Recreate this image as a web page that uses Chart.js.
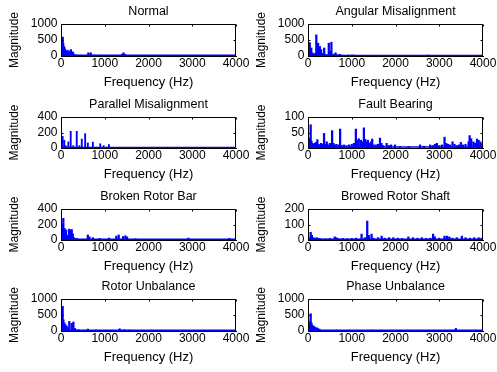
<!DOCTYPE html>
<html>
<head>
<meta charset="utf-8">
<script src="https://cdn.jsdelivr.net/npm/chart.js@4.4.0/dist/chart.umd.min.js"></script>
<style>
  html, body { margin: 0; padding: 0; background: #fff; }
  #fig { position: relative; width: 497px; height: 372px; overflow: hidden; }
  #fig canvas { position: absolute; }
</style>
</head>
<body>
<div id="fig"></div>
<script>
// spectra (Hz, magnitude)
const titles = ['Normal', 'Angular Misalignment', 'Parallel Misalignment', 'Fault Bearing',
                'Broken Rotor Bar', 'Browed Rotor Shaft', 'Rotor Unbalance', 'Phase Unbalance'];
const xTickValues = [0, 1000, 2000, 3000, 4000];
const yTickValues = [[0, 500, 1000], [0, 500, 1000], [0, 200, 400], [0, 50, 100],
                     [0, 200, 400], [0, 100, 200], [0, 500, 1000], [0, 500, 1000]];
const floorLevels = [20, 15, 5, 3, 10, 5, 20, 20];

const normalFreq = [25, 40, 50, 60, 75, 90, 110, 125, 150, 175, 200, 225, 250, 275, 300, 350, 450, 625, 680, 750, 900, 1400, 1430, 1460];
const normalMag = [250, 590, 400, 300, 280, 220, 160, 120, 180, 100, 150, 200, 130, 120, 50, 30, 25, 100, 100, 30, 25, 60, 100, 50];

const angularFreq = [20, 40, 60, 75, 100, 130, 160, 190, 230, 270, 300, 340, 370, 420, 475, 500, 535, 580, 630, 680, 730, 800, 920, 1000, 1050, 2060, 2750];
const angularMag = [150, 420, 200, 250, 100, 60, 80, 660, 400, 300, 200, 80, 250, 50, 400, 150, 430, 60, 100, 40, 50, 25, 30, 30, 30, 20, 30];

const parallelFreq = [38, 76, 110, 168, 222, 280, 360, 420, 475, 552, 613, 728, 897, 973, 1096];
const parallelMag = [150, 100, 30, 80, 215, 30, 215, 30, 115, 185, 65, 75, 55, 30, 45];

const bearingFreq = [15, 23, 40, 61, 80, 100, 120, 153, 180, 214, 240, 270, 300, 330, 367, 400, 428, 460, 500, 530,
  551, 580, 610, 650, 700, 734, 770, 820, 880, 940, 1000, 1050, 1094, 1130, 1160, 1208, 1240, 1277, 1310, 1340,
  1370, 1400, 1440, 1468, 1500, 1550, 1600, 1645, 1680, 1720, 1798, 1850, 1900, 1989, 2100, 2300, 2562, 2650, 2792, 2850,
  2900, 2945, 3000, 3060, 3121, 3160, 3200, 3250, 3304, 3350, 3400, 3450, 3495, 3540, 3600, 3671, 3694, 3730, 3780, 3820,
  3862, 3900, 3940, 3980];
const bearingMag = [20, 32, 25, 75, 22, 15, 12, 15, 18, 27, 12, 10, 15, 12, 47, 12, 20, 10, 15, 12,
  56, 15, 10, 12, 10, 61, 8, 10, 8, 10, 12, 15, 61, 25, 30, 25, 20, 65, 28, 20,
  25, 15, 20, 29, 10, 10, 12, 32, 15, 8, 15, 8, 10, 10, 4, 4, 10, 6, 10, 8,
  12, 15, 8, 10, 35, 15, 12, 10, 20, 12, 8, 10, 18, 10, 12, 20, 40, 30, 20, 15,
  29, 25, 20, 15];

const rotorBarFreq = [23, 53, 80, 115, 150, 184, 214, 245, 270, 300, 360, 613, 650, 728, 881, 1096, 1264, 1318, 1418, 1471, 1510, 1700, 2912, 3847];
const rotorBarMag = [170, 280, 150, 130, 60, 140, 130, 135, 80, 30, 20, 65, 40, 30, 20, 25, 50, 65, 45, 55, 40, 15, 25, 20];

const shaftFreq = [20, 61, 90, 120, 160, 200, 250, 300, 400, 500, 612, 650, 700, 800, 900, 1000, 1100, 1224, 1300, 1354,
  1390, 1453, 1500, 1600, 1683, 1750, 1850, 1950, 2050, 2150, 2294, 2400, 2500, 2600, 2700, 2800, 2860, 2900, 3000, 3120,
  3175, 3230, 3300, 3400, 3518, 3600, 3700, 3800, 3900, 3970];
const shaftMag = [15, 50, 30, 15, 12, 15, 10, 8, 8, 10, 20, 15, 8, 10, 8, 10, 12, 38, 15, 122,
  30, 38, 12, 15, 25, 12, 15, 15, 12, 10, 20, 15, 12, 15, 10, 12, 38, 20, 12, 25,
  25, 20, 12, 15, 25, 15, 12, 15, 15, 12];

const unbalanceFreq = [20, 38, 55, 75, 100, 130, 168, 190, 245, 283, 320, 400, 613, 800, 1341, 1450, 1560];
const unbalanceMag = [300, 770, 350, 250, 200, 150, 100, 300, 240, 280, 80, 40, 60, 30, 70, 40, 30];

const phaseFreq = [38, 61, 80, 100, 130, 160, 190, 220, 260, 650, 1450, 1690, 3150, 3380];
const phaseMag = [300, 540, 250, 180, 150, 120, 100, 90, 60, 30, 30, 25, 25, 80];

const freqs = [normalFreq, angularFreq, parallelFreq, bearingFreq, rotorBarFreq, shaftFreq, unbalanceFreq, phaseFreq];
const mags = [normalMag, angularMag, parallelMag, bearingMag, rotorBarMag, shaftMag, unbalanceMag, phaseMag];

// layout of the axes boxes
const colLeft = [61, 308];
const plotW = 175;
const rowTop = [24, 117, 209, 299];
const rowH = [32, 31, 31, 32];

Chart.defaults.font.family = '"Liberation Sans", Arial, sans-serif';
Chart.defaults.color = '#000';

const boxPlugin = {
  id: 'box',
  afterDraw(chart) {
    const ctx = chart.ctx;
    const a = chart.chartArea;
    const x = chart.scales.x, y = chart.scales.y;
    ctx.save();
    ctx.strokeStyle = '#000';
    ctx.lineWidth = 1;
    const l = Math.round(a.left) + 0.5, t = Math.round(a.top) + 0.5;
    const r = Math.round(a.right) - 0.5, b = Math.round(a.bottom) - 0.5;
    ctx.beginPath();
    ctx.moveTo(l, b); ctx.lineTo(l, t); ctx.lineTo(r, t); ctx.lineTo(r, b);
    xTickValues.forEach(v => {
      const px = Math.round(x.getPixelForValue(v)) + 0.5;
      ctx.moveTo(px, t); ctx.lineTo(px, t + 2);
    });
    y.ticks.forEach(tk => {
      const py = Math.round(y.getPixelForValue(tk.value)) + 0.5;
      ctx.moveTo(l, py); ctx.lineTo(l + 2, py);
      ctx.moveTo(r, py); ctx.lineTo(r - 2, py);
    });
    ctx.stroke();
    ctx.restore();
  }
};

const fig = document.getElementById('fig');

titles.forEach((title, i) => {
  const col = i % 2, row = Math.floor(i / 2);
  const w = 61 + plotW + 13;
  const h = 24 + rowH[row] + 36;
  const canvas = document.createElement('canvas');
  canvas.width = w;
  canvas.height = h;
  canvas.style.left = (colLeft[col] - 61) + 'px';
  canvas.style.top = (rowTop[row] - 24) + 'px';
  fig.appendChild(canvas);

  const yt = yTickValues[i];
  const points = freqs[i].map((f, k) => ({ x: f, y: mags[i][k] }));

  new Chart(canvas, {
    type: 'bar',
    data: {
      datasets: [
        {
          data: points,
          backgroundColor: '#0000ff',
          borderWidth: 0,
          barThickness: i === 2 ? 1.2 : 1.6
        },
        {
          type: 'line',
          data: [{ x: 0, y: floorLevels[i] }, { x: 4000, y: floorLevels[i] }],
          borderColor: '#0000ff',
          borderWidth: 1.5,
          pointRadius: 0
        }
      ]
    },
    options: {
      responsive: false,
      animation: false,
      layout: { padding: { left: 0, right: 13, top: 0, bottom: 0 } },
      plugins: {
        legend: { display: false },
        tooltip: { enabled: false },
        title: {
          display: true,
          fullSize: false,
          text: title,
          color: '#000',
          font: { size: 12.5, weight: 'normal' },
          padding: { top: 4.2, bottom: 4.8 }
        }
      },
      scales: {
        x: {
          type: 'linear',
          min: 0,
          max: 4000,
          offset: false,
          grid: { display: false, drawTicks: false, offset: false },
          border: { display: true, color: '#000' },
          afterBuildTicks: s => { s.ticks = xTickValues.map(v => ({ value: v })); },
          afterFit: s => { s.height = 36; s.paddingLeft = 0; s.paddingRight = 0; },
          ticks: { font: { size: 12 }, padding: 0, maxRotation: 0, autoSkip: false, callback: v => String(v) },
          title: { display: true, text: 'Frequency (Hz)', font: { size: 13 }, padding: { top: 0, bottom: 2.2 } }
        },
        y: {
          min: yt[0],
          max: yt[yt.length - 1],
          grid: { display: false, drawTicks: false },
          border: { display: false },
          afterBuildTicks: s => { s.ticks = yt.map(v => ({ value: v })); },
          afterFit: s => { s.width = 61; s.paddingTop = 0; s.paddingBottom = 0; },
          ticks: { font: { size: 12 }, padding: 3.5, autoSkip: false, callback: v => String(v) },
          title: { display: true, text: 'Magnitude', font: { size: 12 }, padding: { top: 7.3, bottom: 0 } }
        }
      }
    },
    plugins: [boxPlugin]
  });
});
</script>
</body>
</html>
